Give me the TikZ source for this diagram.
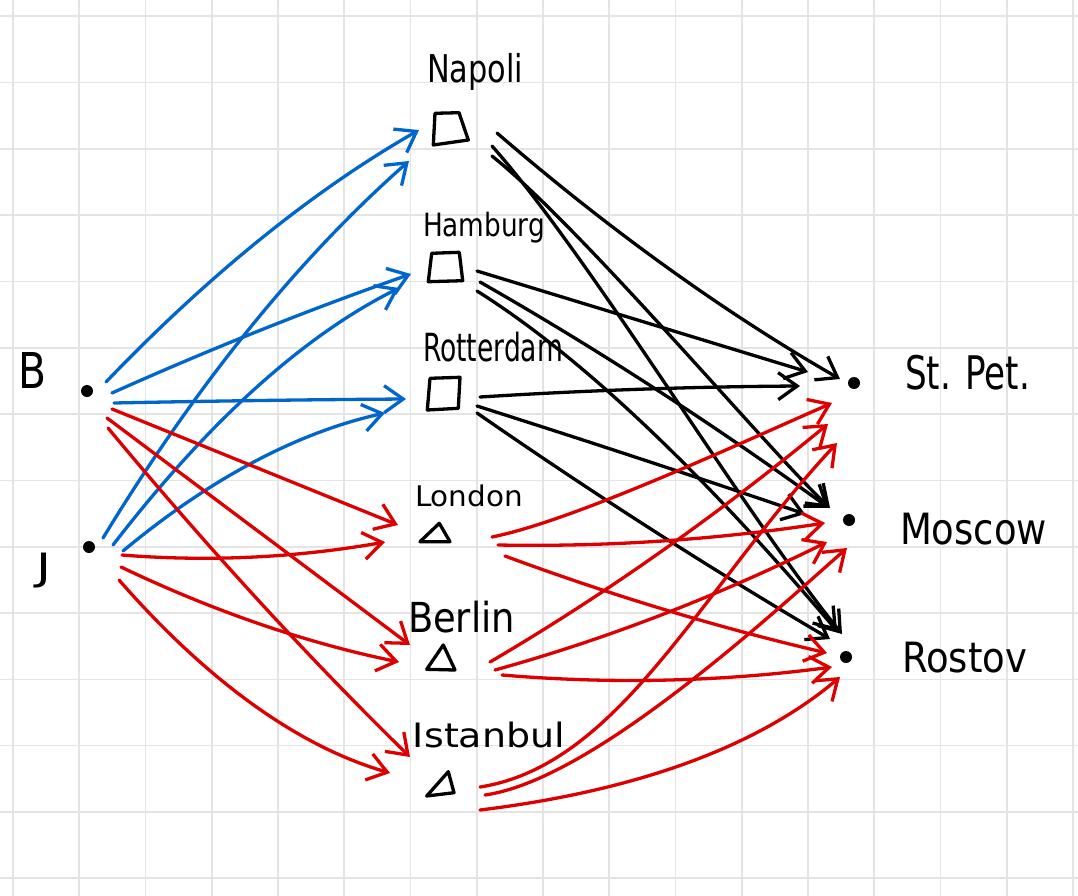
\documentclass[tikz,border=0pt]{standalone}
\usepackage{fontspec}
\usepackage{graphicx}
\setsansfont{DejaVu Sans}
\usetikzlibrary{arrows.meta,calc}
\definecolor{penblue}{RGB}{0,102,204}
\definecolor{penred}{RGB}{221,0,0}
\definecolor{gridgray}{RGB}{228,228,228}
\newcommand\qedge[4]{\draw[#1] (#2) .. controls ($(#2)!0.6667!(#3)$) and ($(#4)!0.6667!(#3)$) .. (#4);}
\newcommand\cedge[5]{\draw[#1] (#2) .. controls (#3) and (#4) .. (#5);}
\newcommand\hw[3]{\resizebox*{#1pt}{#2pt}{#3}}
\begin{document}
\begin{tikzpicture}[x=1pt,y=-1pt,
  gridline/.style={draw=gridgray,line width=1.6pt},
  pen/.style={line width=3.3pt,line cap=round,line join=round},
  arr/.style={pen,-{Straight Barb[length=19pt,width=27pt]}},
  be/.style={arr,draw=penblue},
  re/.style={arr,draw=penred},
  ke/.style={arr,draw=black},
  shp/.style={pen,draw=black},
  dot/.style={circle,fill=black,inner sep=0pt,minimum size=12pt},
  lbl/.style={inner sep=0pt,font=\sffamily\fontsize{30}{30}\selectfont}]
\useasboundingbox (0,0) rectangle (1078,896);
\fill[white] (0,0) rectangle (1078,896);
% grid
\foreach \i in {0,...,16} \draw[gridline] ({13+66.25*\i},0) -- ({13+66.25*\i},896);
\foreach \j in {0,...,13} \draw[gridline] (0,{16.3+66.3*\j}) -- (1078,{16.3+66.3*\j});
% nodes
\node[dot] (B) at (87,391) {};
\node[dot] (J) at (89,547) {};
\node[dot] (StPet) at (854,383) {};
\node[dot] (Moscow) at (849,520) {};
\node[dot] (Rostov) at (846,657) {};
\coordinate (Napoli) at (450,129);
\coordinate (Hamburg) at (446,267);
\coordinate (Rotterdam) at (444,394);
\coordinate (London) at (435,535);
\coordinate (Berlin) at (441,660);
\coordinate (Istanbul) at (440,786);
% port shapes
\draw[shp,shift={(Napoli)}] (-15,-15.7) -- (9,-16.3) -- (18.3,11) -- (-16.7,16) -- cycle;
\draw[shp,shift={(Hamburg)}] (-14.3,-13.7) -- (13.3,-14.7) -- (16.7,13.7) -- (-17.7,14.7) -- cycle;
\draw[shp,shift={(Rotterdam)}] (-14,-15.7) -- (16,-16.7) -- (14.3,14.3) -- (-16.7,16) -- cycle;
\draw[shp,shift={(London)}] (-15,6.7) -- (4.3,-11.7) -- (15,6.7) -- cycle;
\draw[shp,shift={(Berlin)}] (-14.3,9.3) -- (2.3,-15) -- (14,10) -- cycle;
\draw[shp,shift={(Istanbul)}] (-13.3,10) -- (8.3,-14.3) -- (14,6.7) -- cycle;
% labels
\node[lbl] (lB) at (33,370) {\hw{28}{36}{B}};
\node[lbl] (lJ) at (43.5,570.5) {\hw{15}{35}{J}};
\node[lbl] (lNapoli) at (475,71.5) {\hw{96}{37}{Napoli}};
\node[lbl] (lHamburg) at (484,227.5) {\hw{122}{31}{Hamburg}};
\node[lbl] (lRotterdam) at (493,347) {\hw{140}{30}{Rotterdam}};
\node[lbl] (lLondon) at (469,496) {\hw{108}{22}{London}};
\node[lbl] (lBerlin) at (461.5,617) {\hw{107}{32}{Berlin}};
\node[lbl] (lIstanbul) at (489,735) {\hw{152}{26}{Istanbul}};
\node[lbl] (lStPet) at (967.5,372.5) {\hw{125}{35}{St. Pet.}};
\node[lbl] (lMoscow) at (973.5,529) {\hw{147}{32}{Moscow}};
\node[lbl] (lRostov) at (964.5,657.5) {\hw{125}{31}{Rostov}};
% blue: B, J -> Napoli, Hamburg, Rotterdam
\qedge{be}{[shift={(19,-9)}]B.center}{261.5,220}{[shift={(-31,1)}]Napoli}
\qedge{be}{[shift={(14,-9)}]J.center}{244,306.5}{[shift={(-41,32)}]Napoli}
\qedge{be}{[shift={(25,2)}]B.center}{260.5,326.5}{[shift={(-35,7)}]Hamburg}
\qedge{be}{[shift={(24,-2)}]J.center}{256,359.5}{[shift={(-47,21)}]Hamburg}
\qedge{be}{[shift={(27,12)}]B.center}{260,400}{[shift={(-38,5)}]Rotterdam}
\qedge{be}{[shift={(34,4)}]J.center}{254,442}{[shift={(-59,19)}]Rotterdam}
% red: B, J -> London, Berlin, Istanbul
\qedge{re}{[shift={(25,18)}]B.center}{255,467}{[shift={(-37,-10)}]London}
\qedge{re}{[shift={(20,27)}]B.center}{258.5,531.5}{[shift={(-31,-15)}]Berlin}
\qedge{re}{[shift={(21,37)}]B.center}{259,609.5}{[shift={(-30,-29)}]Istanbul}
\qedge{re}{[shift={(33,8)}]J.center}{252.5,565.5}{[shift={(-50,7)}]London}
\qedge{re}{[shift={(32,20)}]J.center}{260,633.5}{[shift={(-42,2)}]Berlin}
\qedge{re}{[shift={(30,33)}]J.center}{253.5,733.5}{[shift={(-50,-13)}]Istanbul}
% black: Napoli, Hamburg, Rotterdam -> St. Pet., Moscow, Rostov
\qedge{ke}{[shift={(47,4)}]Napoli}{667.5,280}{[shift={(-14,-4)}]StPet.center}
\cedge{ke}{[shift={(42,17)}]Napoli}{592,259}{742,511}{[shift={(-4,-23)}]Rostov.center}
\cedge{ke}{[shift={(42,27)}]Napoli}{582,228}{772,454}{[shift={(-19,-12)}]Moscow.center}
\qedge{ke}{[shift={(31,4)}]Hamburg}{642.5,321.5}{[shift={(-46,-11)}]StPet.center}
\qedge{ke}{[shift={(34,15)}]Hamburg}{653.5,381}{[shift={(-20,-12)}]Moscow.center}
\qedge{ke}{[shift={(31,24)}]Hamburg}{630,387}{[shift={(-9,-26)}]Rostov.center}
\qedge{ke}{[shift={(36,3)}]Rotterdam}{640,387}{[shift={(-54,3)}]StPet.center}
\qedge{ke}{[shift={(33,12)}]Rotterdam}{641,458}{[shift={(-44,-6)}]Moscow.center}
\qedge{ke}{[shift={(33,19)}]Rotterdam}{653,535}{[shift={(-16,-18)}]Rostov.center}
% red: London, Berlin, Istanbul -> St. Pet., Moscow, Rostov
\cedge{re}{[shift={(57,2)}]London}{572,521}{732,447}{[shift={(-22,20)}]StPet.center}
\qedge{re}{[shift={(63,10)}]London}{661.5,548}{[shift={(-24,3)}]Moscow.center}
\qedge{re}{[shift={(70,21)}]London}{666,615.5}{[shift={(-19,-4)}]Rostov.center}
\qedge{re}{[shift={(49,2)}]Berlin}{659,563}{[shift={(-26,41)}]StPet.center}
\qedge{re}{[shift={(54,10)}]Berlin}{661,624}{[shift={(-22,22)}]Moscow.center}
\qedge{re}{[shift={(61,15)}]Berlin}{667,689}{[shift={(-14,10)}]Rostov.center}
\cedge{re}{[shift={(40,1)}]Istanbul}{620,765}{700,590}{[shift={(-17,60)}]StPet.center}
\cedge{re}{[shift={(45,9)}]Istanbul}{590,780}{760,625}{[shift={(-2,28)}]Moscow.center}
\qedge{re}{[shift={(40,24)}]Istanbul}{717,781}{[shift={(-6,20)}]Rostov.center}
\end{tikzpicture}
\end{document}
